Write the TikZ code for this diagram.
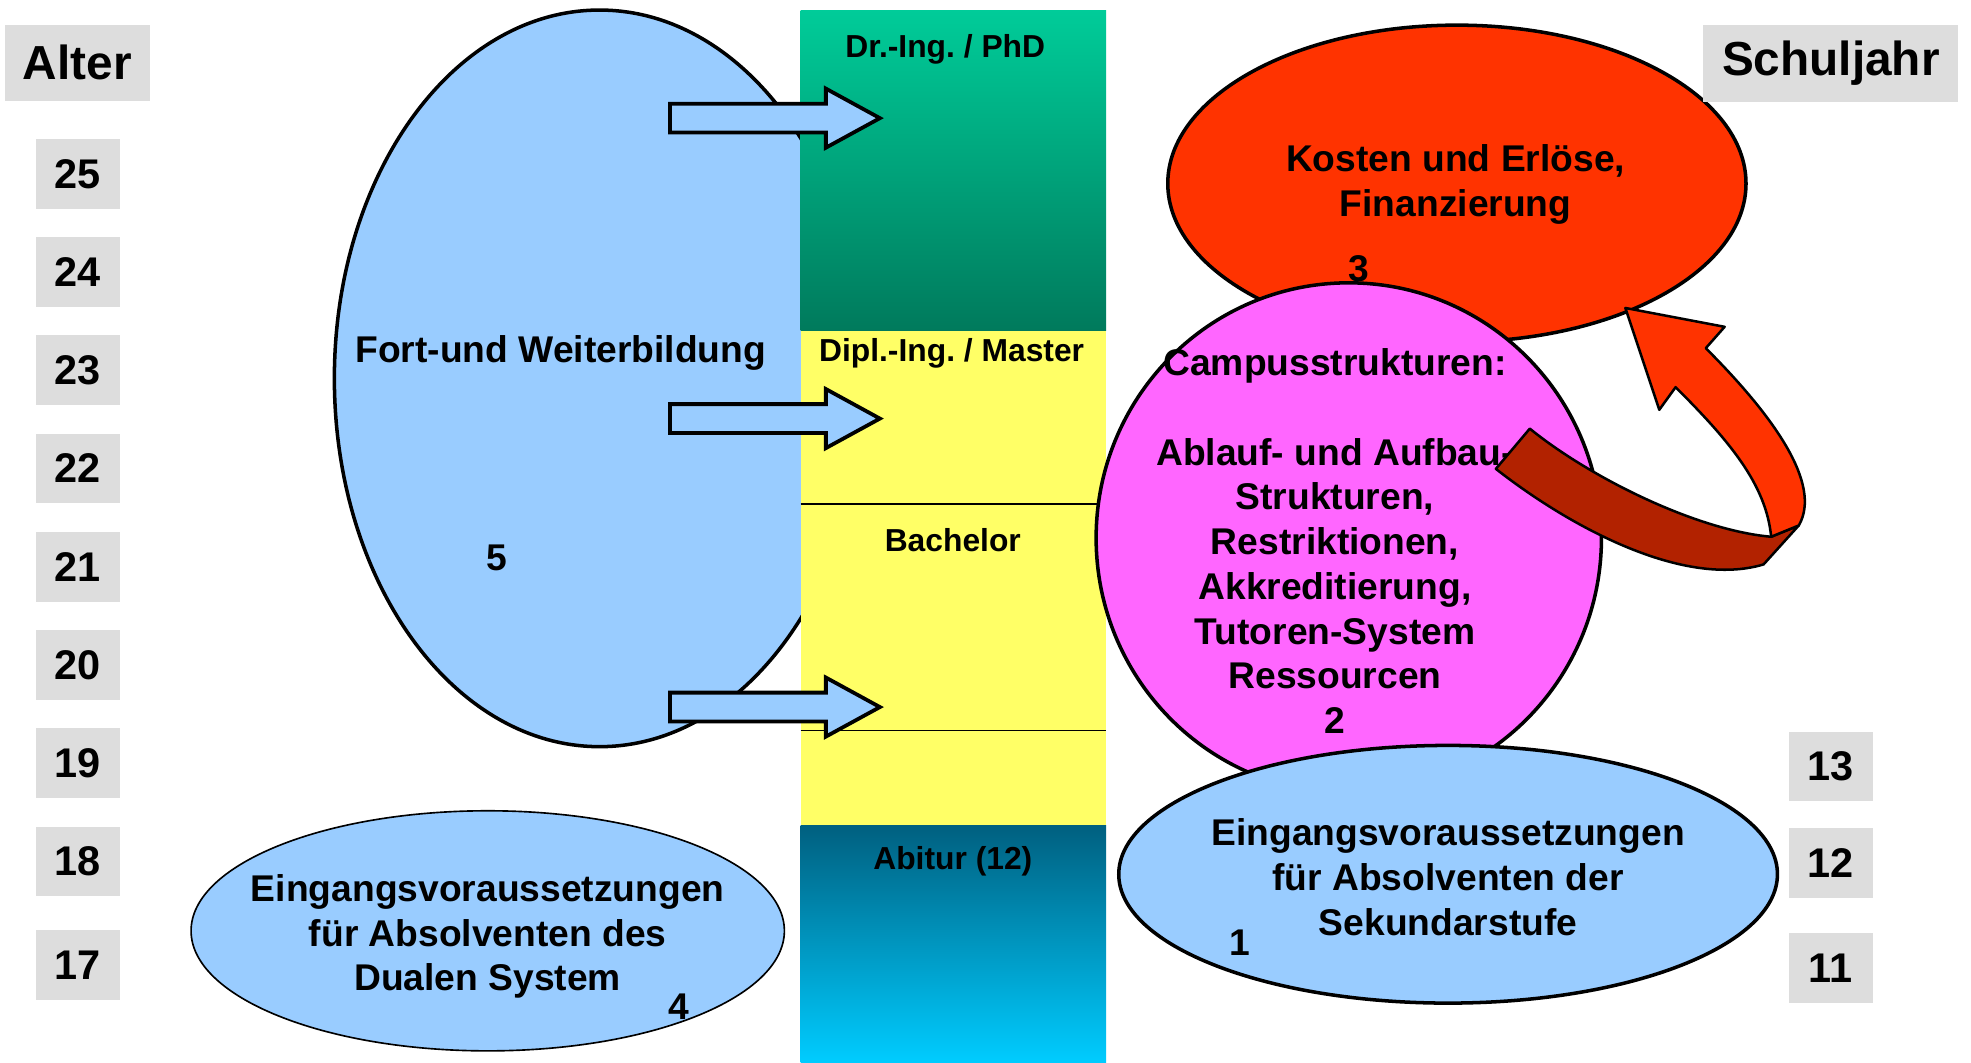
\documentclass[tikz,border=0pt]{standalone}
\usepackage{fontspec}
\setmainfont{Liberation Sans}
\usetikzlibrary{shapes.geometric}
\frenchspacing
\definecolor{lblue}{HTML}{99CCFF}
\definecolor{kred}{HTML}{FF3300}
\definecolor{kpink}{HTML}{FF66FF}
\definecolor{dred}{HTML}{B22200}
\definecolor{boxgray}{HTML}{DDDDDD}
\definecolor{yel}{HTML}{FFFF66}
\definecolor{gtop}{HTML}{00CC99}
\definecolor{gbot}{HTML}{007A5C}
\definecolor{atop}{HTML}{006080}
\definecolor{abot}{HTML}{00CCFF}
\tikzset{
  txt/.style={font=\bfseries\fontsize{29.6}{35.6}\selectfont, align=center, inner sep=0pt},
  coltxt/.style={font=\bfseries\fontsize{25.3}{30}\selectfont, inner sep=0pt},
  agebox/.style={fill=boxgray, minimum width=67pt, minimum height=55.5pt, inner sep=0pt, font=\bfseries\fontsize{33}{33}\selectfont},
  hdrbox/.style={fill=boxgray, minimum height=61pt, inner sep=0pt, font=\bfseries\fontsize{38}{38}\selectfont},
  bubble/.style={ellipse, draw, line width=2.8pt, inner sep=0pt},
  blockarrow/.style={draw, fill=lblue, line width=3pt, line join=miter},
  sepline/.style={draw, line width=1.2pt},
  ribbon/.style={draw, line width=2pt, line join=round}
}
\begin{document}
\begin{tikzpicture}[x=1pt, y=-1pt]
\useasboundingbox (0,0) rectangle (1568,845);
\fill[white] (0,0) rectangle (1568,845);

% big ellipse 5
\node[bubble, fill=lblue, minimum width=422pt, minimum height=586pt] (e5) at (477,301) {};
\node[txt] (t5) at (446,281) {Fort-und Weiterbildung};
\node[txt] (n5) at (395,444) {5};

% column
\shade[top color=gtop, bottom color=gbot] (637,8) rectangle (880,263);
\fill[yel] (637,263) rectangle (880,657);
\shade[top color=atop, bottom color=abot] (637,657) rectangle (880,845);
\draw[sepline] (637,401) -- (882,401);
\draw[sepline] (637,581) -- (880,581);

% block arrows
\foreach \yy/\nm in {94/a1, 333/a2, 562.5/a3}{
  \draw[blockarrow] (533,\yy-11.5) -- (657,\yy-11.5) -- (657,\yy-23.5) -- (700,\yy)
     -- (657,\yy+23.5) -- (657,\yy+11.5) -- (533,\yy+11.5) -- cycle;
}

\node[coltxt] (cphd) at (752,39) {Dr.-Ing. / PhD};
\node[coltxt] (cmas) at (757,281) {Dipl.-Ing. / Master};
\node[coltxt] (cbac) at (758,430) {Bachelor};
\node[coltxt] (cabi) at (758,685) {Abitur (12)};

% red ellipse 3
\node[bubble, fill=kred, minimum width=460pt, minimum height=252pt] (e3) at (1159,146) {};
\node[txt] (t3) at (1158,147) {Kosten und Erlöse,\\Finanzierung};
\node[txt] (n3) at (1081,214) {3};

% pink ellipse 2
\node[bubble, fill=kpink, minimum width=402pt, minimum height=406pt] (e2) at (1073,428) {};
\node[txt] (t2) at (1062,430.5) {Campusstrukturen:\\[35.6pt]Ablauf- und Aufbau-\\Strukturen,\\Restriktionen,\\Akkreditierung,\\Tutoren-System\\Ressourcen\\2};

% curved ribbon arrow
\draw[ribbon, fill=dred] (1217,341) .. controls (1265,380) and (1350,422) .. (1409,427)
   -- (1431,418) -- (1403,449) .. controls (1340,468) and (1250,420) .. (1190,373) -- cycle;
\draw[ribbon, fill=kred] (1409,427) .. controls (1405,385) and (1375,350) .. (1333,308)
   -- (1320,326) -- (1293,245) -- (1372,260) -- (1357,277)
   .. controls (1410,330) and (1450,385) .. (1431,418) -- cycle;

% blue ellipse 1
\node[bubble, fill=lblue, minimum width=524pt, minimum height=205pt] (e1) at (1152,695.5) {};
\node[txt] (t1) at (1152,698) {Eingangsvoraussetzungen\\für Absolventen der\\Sekundarstufe};
\node[txt] (n1) at (986,750) {1};

% blue ellipse 4
\node[bubble, fill=lblue, line width=1.3pt, minimum width=472pt, minimum height=191pt] (e4) at (388,740.5) {};
\node[txt] (t4) at (388,745) {Eingangsvoraussetzungen\\für Absolventen des\\Dualen System};
\node[txt] (n4) at (540,801) {4};

% age column
\node[hdrbox, minimum width=115pt] (alter) at (61.5,50) {Alter};
\foreach \a/\yy in {25/138.3, 24/216.4, 23/294.6, 22/372.7, 21/450.9, 20/529, 19/607.2, 18/685.3, 17/767.5}{
  \node[agebox] (age\a) at (62,\yy) {\a};
}
% school year column
\node[hdrbox, minimum width=203pt] (schul) at (1456.5,50.4) {Schuljahr};
\foreach \a/\yy in {13/609.8, 12/686.4, 11/770}{
  \node[agebox] (sj\a) at (1456.5,\yy) {\a};
}
\end{tikzpicture}
\end{document}
